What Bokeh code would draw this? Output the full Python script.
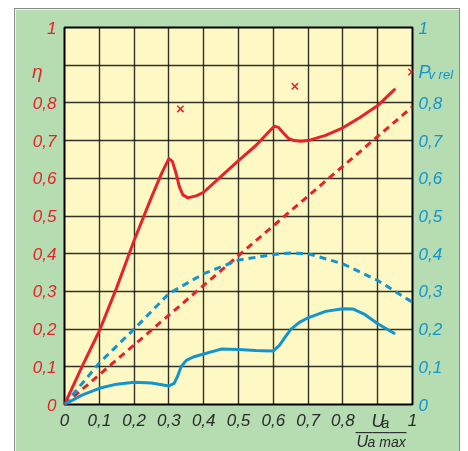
from bokeh.plotting import figure
from bokeh.models import FixedTicker, LinearAxis, Range1d, Label
from bokeh.embed import file_html
from bokeh.resources import INLINE

# ---- data ----
ticks = [0, 0.1, 0.2, 0.3, 0.4, 0.5, 0.6, 0.7, 0.8, 0.9, 1]
x_tick_labels = ["0", "0,1", "0,2", "0,3", "0,4", "0,5", "0,6", "0,7", "0,8", "", "1"]
y_tick_labels = ["0", "0,1", "0,2", "0,3", "0,4", "0,5", "0,6", "0,7", "0,8", "", "1"]

eta_x = [0, 0.05, 0.1, 0.15, 0.2, 0.25, 0.28, 0.3, 0.31, 0.32, 0.33, 0.34, 0.355, 0.38, 0.4,
         0.45, 0.5, 0.55, 0.59, 0.603, 0.615, 0.627, 0.643, 0.66, 0.679, 0.7, 0.75, 0.8, 0.85, 0.9, 0.948]
eta_y = [0, 0.10, 0.195, 0.31, 0.435, 0.55, 0.615, 0.652, 0.645, 0.615, 0.578, 0.556, 0.548, 0.554, 0.563,
         0.605, 0.647, 0.687, 0.726, 0.738, 0.735, 0.722, 0.706, 0.700, 0.698, 0.700, 0.714, 0.734, 0.762, 0.793, 0.835]

eta_lin_x = [0, 1]
eta_lin_y = [0, 0.79]

pv_x = [0, 0.05, 0.1, 0.15, 0.2, 0.25, 0.3, 0.315, 0.325, 0.335, 0.35, 0.37, 0.4, 0.45, 0.5,
        0.55, 0.6, 0.617, 0.635, 0.651, 0.675, 0.7, 0.75, 0.8, 0.83, 0.861, 0.9, 0.947]
pv_y = [0, 0.025, 0.043, 0.054, 0.059, 0.057, 0.049, 0.056, 0.075, 0.1, 0.117, 0.126, 0.134, 0.147, 0.146,
        0.143, 0.142, 0.156, 0.18, 0.2, 0.218, 0.23, 0.247, 0.254, 0.253, 0.24, 0.214, 0.189]

pv_th_x = [0, 0.1, 0.2, 0.3, 0.4, 0.5, 0.6, 0.65, 0.7, 0.8, 0.9, 1.0]
pv_th_y = [0, 0.11, 0.2, 0.294, 0.347, 0.383, 0.398, 0.402, 0.4, 0.373, 0.329, 0.271]

mark_x = [0.333, 0.662, 0.997]
mark_y = [0.784, 0.844, 0.882]

# ---- style ----
RED = "#e52329"
BLUE = "#1294cf"
GREEN = "#b6dcb1"
YELLOW = "#fef9c4"
DARK = "#2a2a2a"
EDGE = "#8a8a8a"
FONT = "'Liberation Sans Narrow', 'Liberation Sans', sans-serif"

p = figure(frame_width=348, frame_height=377, x_range=Range1d(0, 1), y_range=Range1d(0, 1),
           output_backend="svg", toolbar_location=None,
           min_border_left=49, min_border_right=47, min_border_top=18, min_border_bottom=47,
           background_fill_color=YELLOW, border_fill_color=GREEN)
p.outline_line_color = "black"
p.outline_line_width = 2
p.styles = {"position": "fixed", "left": "15px", "top": "9px",
            "box-shadow": f"0 0 0 1px {EDGE}"}


def style_axis(ax, color, labels, standoff):
    ax.ticker = FixedTicker(ticks=ticks)
    ax.major_label_overrides = dict(zip(ticks, labels))
    ax.axis_line_color = None
    ax.major_tick_line_color = None
    ax.minor_tick_line_color = None
    ax.major_tick_out = 0
    ax.major_tick_in = 0
    ax.minor_tick_out = 0
    ax.minor_tick_in = 0
    ax.major_label_text_color = color
    ax.major_label_text_font = FONT
    ax.major_label_text_font_style = "italic"
    ax.major_label_text_font_size = "17px"
    ax.major_label_standoff = standoff


style_axis(p.xaxis[0], DARK, x_tick_labels, 9)
style_axis(p.yaxis[0], RED, y_tick_labels, 8)
right = LinearAxis()
style_axis(right, BLUE, y_tick_labels, 6)
p.add_layout(right, "right")

for g in (p.xgrid[0], p.ygrid[0]):
    g.ticker = FixedTicker(ticks=ticks)
    g.grid_line_color = "#111111"
    g.grid_line_width = 1.4
    g.grid_line_alpha = 0.85

p.line(eta_lin_x, eta_lin_y, line_color=RED, line_width=3, line_dash="7 5")
p.line(pv_th_x, pv_th_y, line_color=BLUE, line_width=3, line_dash="7 5")
p.line(eta_x, eta_y, line_color=RED, line_width=3, line_join="round", line_cap="round")
p.line(pv_x, pv_y, line_color=BLUE, line_width=3, line_join="round", line_cap="round")
p.scatter(mark_x, mark_y, marker="x", size=9, line_color=RED, line_width=1.5)


def lab(x, y, text, color, size, align="left", style="italic"):
    # kept in the bottom side panel so the texts are not clipped to the frame;
    # positions are still in data units
    p.add_layout(Label(x=x, y=y, text=text, text_color=color, text_font=FONT,
                       text_font_style=style, text_font_size=size,
                       text_align=align, text_baseline="alphabetic"), "below")


lab(-0.063, 0.884, "η", RED, "19px", "right")
lab(1.017, 0.883, "P", BLUE, "18px")
lab(1.046, 0.875, "v rel", BLUE, "13px")
lab(0.882, -0.045, "U", DARK, "18px")
lab(0.911, -0.048, "a", DARK, "14px")
lab(0.836, -0.071, "\u2014\u2014\u2014", DARK, "17px", style="normal")
lab(0.839, -0.099, "U", DARK, "16px")
lab(0.871, -0.099, "a max", DARK, "14px")

open("out.html", "w").write(file_html(p, INLINE))
